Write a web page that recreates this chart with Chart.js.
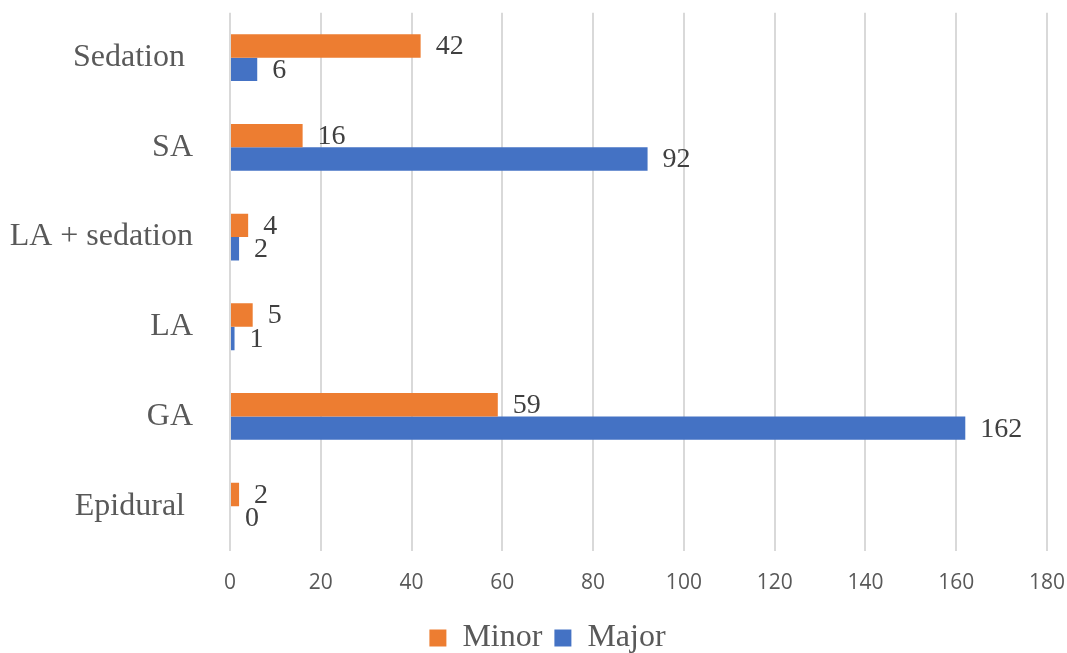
<!DOCTYPE html>
<html>
<head>
<meta charset="utf-8">
<script src="https://cdn.jsdelivr.net/npm/chart.js@4/dist/chart.umd.min.js"></script>
<style>
    html, body { margin: 0; padding: 0; background: #fff; }
    #wrap { width: 1067px; height: 653px; }
</style>
</head>
<body>
<div id="wrap"><canvas id="chart"></canvas></div>
<script>
const categories = ["Sedation ", "SA", "LA + sedation", "LA", "GA", "Epidural "];
const minorValues = [42, 16, 4, 5, 59, 2];
const majorValues = [6, 92, 2, 1, 162, 0];
const xTicks = [0, 20, 40, 60, 80, 100, 120, 140, 160, 180];

const serif = "'Liberation Serif', 'Times New Roman', serif";

// Draw value labels to the right of each bar
const valueLabels = {
    id: "valueLabels",
    afterDatasetsDraw(chart) {
        const ctx = chart.ctx;
        ctx.save();
        ctx.font = "28px " + serif;
        ctx.fillStyle = "#404040";
        ctx.textBaseline = "middle";
        ctx.textAlign = "left";
        chart.data.datasets.forEach((ds, i) => {
            chart.getDatasetMeta(i).data.forEach((bar, j) => {
                ctx.fillText(ds.data[j], bar.x + 15, bar.y + 1);
            });
        });
        ctx.restore();
    }
};

// Nudge the legend to the right, like the original
const legendShift = {
    id: "legendShift",
    afterLayout(chart) {
        chart.legend.left += 14;
        chart.legend.right += 14;
    }
};

new Chart(document.getElementById("chart").getContext("2d"), {
    type: "bar",
    data: {
        labels: categories,
        datasets: [
            { label: "Minor", data: minorValues, backgroundColor: "#ED7D31" },
            { label: "Major", data: majorValues, backgroundColor: "#4472C4" }
        ]
    },
    options: {
        indexAxis: "y",
        responsive: true,
        maintainAspectRatio: false,
        animation: false,
        layout: { padding: { top: 0, left: 0, right: 0, bottom: -11 } },
        datasets: { bar: { categoryPercentage: 0.522, barPercentage: 1.0 } },
        plugins: {
            legend: {
                position: "bottom",
                labels: {
                    boxWidth: 17,
                    boxHeight: 17,
                    padding: 12,
                    color: "#595959",
                    font: { family: serif, size: 32 }
                }
            },
            tooltip: { enabled: false }
        },
        scales: {
            x: {
                min: 0,
                max: 180,
                afterBuildTicks: scale => { scale.ticks = xTicks.map(v => ({ value: v })); },
                grid: { color: "#d9d9d9", lineWidth: 2, drawTicks: true, tickLength: 17, tickColor: "transparent" },
                border: { display: false },
                ticks: {
                    color: "#595959",
                    padding: 2,
                    font: { family: "'Open Sans', 'Liberation Sans', sans-serif", size: 21 }
                },
                afterFit: scale => { scale.height = 59; }
            },
            y: {
                grid: { color: "transparent", drawTicks: true, tickLength: 37, tickColor: "transparent" },
                border: { display: false },
                ticks: {
                    color: "#595959",
                    padding: 0,
                    font: { family: serif, size: 32, lineHeight: 0.8 }
                },
                afterFit: scale => { scale.width = 230; }
            }
        }
    },
    plugins: [valueLabels, legendShift]
});
</script>
</body>
</html>
